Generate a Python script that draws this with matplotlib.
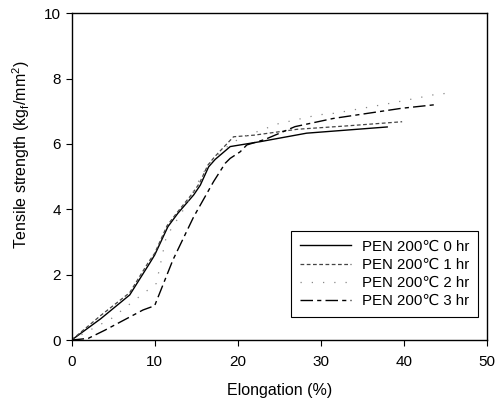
import numpy as np
import matplotlib.pyplot as plt

plt.rcParams['font.family'] = ['Liberation Sans', 'DejaVu Sans']

# datos
x_0h = [0, 3.5, 7.0, 9.4, 10.0, 11.6, 12.8, 14.7, 15.5, 16.5, 17.3, 19.1, 22.7, 28.3, 38.0]
y_0h = [0, 0.65, 1.38, 2.35, 2.6, 3.47, 3.88, 4.44, 4.74, 5.3, 5.53, 5.92, 6.07, 6.33, 6.52]

x_1h = [0, 3.5, 7.0, 9.3, 10.0, 11.5, 12.7, 14.6, 15.4, 16.4, 17.2, 19.5, 22.0, 27.2, 33.0, 39.8]
y_1h = [0, 0.75, 1.45, 2.4, 2.65, 3.5, 3.9, 4.5, 4.8, 5.35, 5.6, 6.22, 6.27, 6.45, 6.55, 6.68]

x_2h = [0, 4.8, 7.2, 10.2, 11.4, 13.5, 15.8, 17.0, 19.1, 20.5, 24.9, 29.7, 31.7, 38.7, 43.5, 45.8]
y_2h = [0, 0.66, 1.14, 1.73, 3.16, 4.0, 5.1, 5.5, 6.0, 6.2, 6.62, 6.89, 6.94, 7.26, 7.5, 7.57]

x_3h = [0, 2.0, 4.0, 8.6, 10.0, 12.2, 14.7, 17.1, 18.5, 19.1, 20.3, 21.1, 23.3, 26.9, 31.5, 39.7, 44.1]
y_3h = [0, 0.05, 0.3, 0.92, 1.05, 2.45, 3.77, 4.85, 5.41, 5.56, 5.76, 5.97, 6.14, 6.53, 6.78, 7.09, 7.21]

etiquetas = ['PEN 200\u2103 0 hr', 'PEN 200\u2103 1 hr', 'PEN 200\u2103 2 hr', 'PEN 200\u2103 3 hr']

fig = plt.figure(figsize=(5.04, 4.01), dpi=100)
ax = fig.add_axes([0.142, 0.152, 0.824, 0.815])

ax.plot(x_0h, y_0h, color='black', lw=1.0, ls='-', label=etiquetas[0])
ax.plot(x_1h, y_1h, color='#444444', lw=0.9, ls=(0, (3, 2)), label=etiquetas[1])
ax.plot(x_2h, y_2h, color='#888888', lw=0.9, ls=(0, (1, 8)), label=etiquetas[2])
ax.plot(x_3h, y_3h, color='black', lw=1.0, ls=(0, (9, 3, 3, 3)), label=etiquetas[3])

ax.set_xlim(0, 50)
ax.set_ylim(0, 10)
ax.set_xticks([0, 10, 20, 30, 40, 50])
ax.set_yticks([0, 2, 4, 6, 8, 10])
ax.tick_params(direction='out', length=4, width=0.8, labelsize=11, top=False, right=False)
ax.tick_params(axis='x', pad=7)
for s in ax.spines.values():
    s.set_linewidth(1.0)

ax.set_xlabel('Elongation (%)', fontsize=11.5, labelpad=10)
ax.set_ylabel('Tensile strength (kg$_\\mathregular{f}$/mm$^\\mathregular{2}$)', fontsize=11.5)
ax.yaxis.set_label_coords(-0.096, 0.566)

leg = ax.legend(loc='lower right', bbox_to_anchor=(0.979, 0.070), borderaxespad=0,
                fontsize=10.8, handlelength=3.4, handletextpad=0.7, fancybox=False,
                framealpha=1, edgecolor='black', borderpad=0.6, labelspacing=0.28)
leg.get_frame().set_linewidth(0.8)

plt.savefig('out.png', dpi=100)
